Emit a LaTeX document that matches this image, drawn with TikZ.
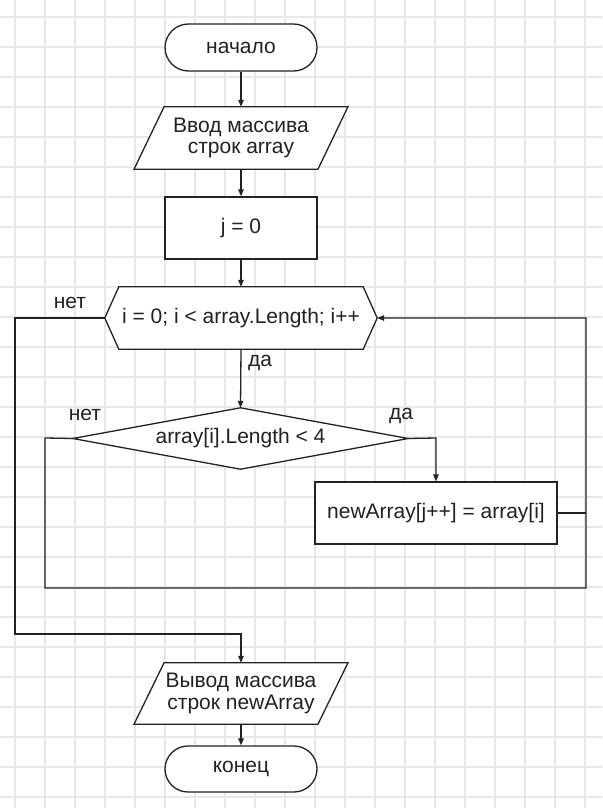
\documentclass[tikz,border=0pt]{standalone}
\usepackage{fontspec}
\setmainfont{Liberation Sans}
\usetikzlibrary{shapes.misc,arrows.meta}
\definecolor{ink}{HTML}{222222}
\definecolor{gridc}{HTML}{E8E8E8}
\begin{document}
\begin{tikzpicture}[x=1pt,y=-1pt,
  font=\fontsize{21}{21.5}\selectfont,
  ln/.style={line width=1.3pt, draw=ink},
  arr/.style={ln,-{Triangle[length=7pt,width=5.5pt]}},
  gridline/.style={line width=1.3pt, draw=gridc},
  term/.style={rounded rectangle, rounded rectangle arc length=180, ln, fill=white, text=ink, minimum width=152pt, minimum height=47pt, inner sep=0pt},
  box/.style={rectangle, ln, fill=white, text=ink, inner sep=0pt},
  plain/.style={rectangle, draw=none, text=ink, inner sep=0pt, align=center},
  lbl/.style={text=ink, inner sep=0pt}]
\useasboundingbox (0,0) rectangle (602,808);
\fill[white] (0,0) rectangle (602,808);
\foreach \x in {15,45,...,585} \draw[gridline] (\x,0) -- (\x,808);
\foreach \y in {17,47,...,797} \draw[gridline] (0,\y) -- (602,\y);

% nodes
\node[term] (start) at (241,47.5) {начало};
\node[plain, minimum width=153.5pt, minimum height=62pt] (in) at (241,138) {};
\draw[ln, fill=white] (in.north west) -- ([xshift=30pt]in.north east) -- (in.south east) -- ([xshift=-30pt]in.south west) -- cycle;
\node[plain] (int) at (in) {Ввод массива\\строк array};
\node[box, minimum width=152pt, minimum height=62pt] (j0) at (241,228) {j = 0};
\node[plain, minimum width=272pt, minimum height=62pt] (hex) at (241,318) {};
\draw[ln, fill=white] (hex.west) -- ([xshift=14pt]hex.north west) -- ([xshift=-14pt]hex.north east) -- (hex.east) -- ([xshift=-14pt]hex.south east) -- ([xshift=14pt]hex.south west) -- cycle;
\node[plain] (hext) at (hex) {i = 0; i < array.Length; i++};
\node[plain, minimum width=335pt, minimum height=61pt] (dia) at (240.5,438.5) {};
\draw[ln, fill=white] (dia.west) -- (dia.north) -- (dia.east) -- (dia.south) -- cycle;
\node[plain] (diat) at (dia) {array[i].Length < 4};
\node[box, minimum width=242pt, minimum height=62pt] (act) at (436,513) {newArray[j++] = array[i]};
\node[plain, minimum width=153.5pt, minimum height=61pt] (out) at (241,693.5) {};
\draw[ln, fill=white] (out.north west) -- ([xshift=30pt]out.north east) -- (out.south east) -- ([xshift=-30pt]out.south west) -- cycle;
\node[plain] (outt) at (out) {Вывод массива\\строк newArray};
\node[term, minimum height=46pt] (end) at (241,769) {конец};

% connector corners
\coordinate (c1) at (436,438);
\coordinate (c2) at (586,513);
\coordinate (c3) at (586,318);
\coordinate (c4) at (45,438);
\coordinate (c5) at (45,588);
\coordinate (c6) at (586,588);
\coordinate (c7) at (15,318);
\coordinate (c8) at (15,634);
\coordinate (c9) at (241,634);

% connectors
\draw[arr] (start.south) -- (in.north);
\draw[arr] (in.south) -- (j0.north);
\draw[arr] (j0.south) -- (hex.north);
\draw[arr] (hex.south) -- (dia.north);
\draw[arr] (dia.east) -- (c1) -- (act.north);
\draw[ln] (act.east) -- (c2);
\draw[arr] (dia.west) -- (c4) -- (c5) -- (c6) -- (c3) -- (hex.east);
\draw[arr] (hex.west) -- (c7) -- (c8) -- (c9) -- (out.north);
\draw[arr] (out.south) -- (end.north);

% labels
\node[lbl] (l1) at (70,303) {нет};
\node[lbl] (l2) at (260,363) {да};
\node[lbl] (l3) at (85,415) {нет};
\node[lbl] (l4) at (401,416) {да};
\end{tikzpicture}
\end{document}
